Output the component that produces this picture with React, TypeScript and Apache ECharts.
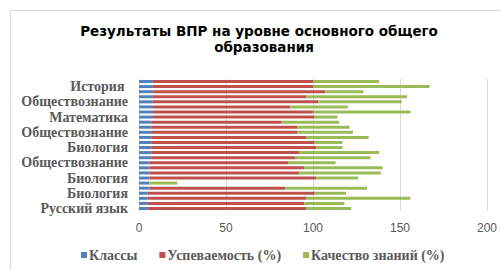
import React, { useEffect, useRef } from "react";
import * as echarts from "echarts";

const titleLines = ["Результаты ВПР на уровне основного общего", "образования"];

// Categories from bottom (index 0) to top
const categories = [
  "Русский язык", "Математика", "История", "Биология",
  "Русский язык", "Математика", "Биология", "История", "География", "Обществознание",
  "Русский язык", "Математика", "Биология", "История", "География", "Обществознание", "Физика", "Английский язык",
  "Математика", "Русский язык", "Биология", "Обществознание", "География", "Физика", "История ", "Химия",
];

const classes = [5, 5, 5, 5, 6, 6, 6, 6, 6, 6, 7, 7, 7, 7, 7, 7, 7, 7, 8, 8, 8, 8, 8, 8, 8, 8];
const successRate = [91, 90, 91, 96, 78, 0, 96, 86, 89, 80, 83, 85, 95, 94, 89, 84, 84, 75, 93, 92, 79, 95, 88, 99, 92, 92];
const qualityRate = [26, 23, 60, 18, 47, 16, 24, 47, 45, 27, 43, 46, 15, 16, 36, 32, 30, 33, 13, 56, 33, 48, 58, 22, 67, 38];

const seriesNames = ["Классы", "Успеваемость (%)", "Качество знаний (%)"];
const xTicks = { min: 0, max: 200, interval: 50 };

export default function App() {
  const ref = useRef<HTMLDivElement>(null);
  useEffect(() => {
    if (!ref.current) return;
    const chart = echarts.init(ref.current, null, { renderer: "svg" });
    const serif = "'Liberation Serif', 'Times New Roman', serif";
    const sans = "'DejaVu Sans', 'Liberation Sans', Arial, sans-serif";
    const data = [classes, successRate, qualityRate];
    const colors = ["#4F81BD", "#C0504D", "#9BBB59"];
    const titleCenters = [259, 264];
    chart.setOption({
      animation: false,
      backgroundColor: "#ffffff",
      title: titleLines.map((t, i) => ({
        text: t,
        left: titleCenters[i],
        textAlign: "center",
        top: 23 + i * 16,
        padding: 0,
        textStyle: {
          fontFamily: sans,
          fontWeight: "bold",
          fontSize: 13.5,
          lineHeight: 16,
          color: "#000000",
        },
      })),
      legend: {
        data: seriesNames,
        left: 76,
        top: 243,
        itemWidth: 6,
        itemHeight: 6,
        itemGap: 22,
        icon: "rect",
        textStyle: {
          fontFamily: serif,
          fontWeight: "bold",
          fontSize: 14,
          color: "#595959",
          padding: [0, 0, 0, -3],
        },
      },
      grid: { left: 139, right: 14, top: 79, bottom: 59, containLabel: false },
      xAxis: {
        type: "value",
        min: xTicks.min,
        max: xTicks.max,
        interval: xTicks.interval,
        axisLine: { show: false },
        axisTick: { show: false },
        splitLine: { show: true, lineStyle: { color: "#d9d9d9", width: 1 } },
        axisLabel: { fontFamily: "'Liberation Sans', Arial, sans-serif", fontSize: 12, color: "#595959", margin: 11 },
      },
      yAxis: {
        type: "category",
        data: categories,
        axisLine: { show: true, lineStyle: { color: "#d9d9d9" } },
        axisTick: { show: false },
        axisLabel: {
          interval: 2,
          fontFamily: serif,
          fontWeight: "bold",
          fontSize: 14,
          color: "#595959",
          margin: 11,
        },
      },
      series: seriesNames.map((name, i) => ({
        name,
        type: "bar",
        stack: "total",
        barWidth: 3,
        data: data[i],
        itemStyle: { color: colors[i] },
      })),
      graphic: [
        {
          type: "rect",
          shape: { x: 10.5, y: 10.5, width: 500, height: 270 },
          style: { fill: "none", stroke: "#d9d9d9", lineWidth: 1 },
          silent: true,
        },
      ],
    });
    return () => chart.dispose();
  }, []);
  return (
    <div
      ref={ref}
      style={{ position: "fixed", left: 0, top: 0, width: 501, height: 270 }}
    />
  );
}
